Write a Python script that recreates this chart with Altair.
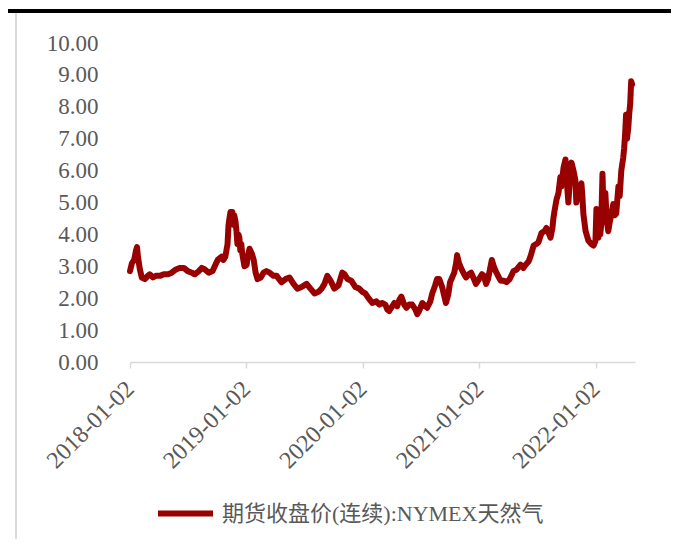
import altair as alt
import pandas as pd

series_name = "期货收盘价(连续):NYMEX天然气"

dates = [
    "2018-01-02", "2018-01-08", "2018-01-15", "2018-01-21", "2018-01-24", "2018-01-27",
    "2018-02-02", "2018-02-08", "2018-02-18", "2018-02-27", "2018-03-05", "2018-03-15",
    "2018-03-24", "2018-04-06", "2018-04-18", "2018-05-01", "2018-05-13", "2018-05-26",
    "2018-06-07", "2018-06-20", "2018-07-02", "2018-07-15", "2018-07-24", "2018-08-06",
    "2018-08-15", "2018-08-25", "2018-09-06", "2018-09-18", "2018-09-27", "2018-10-04",
    "2018-10-10", "2018-10-16", "2018-10-22", "2018-10-28", "2018-11-04", "2018-11-07",
    "2018-11-10", "2018-11-13", "2018-11-16", "2018-11-19", "2018-11-22", "2018-11-25",
    "2018-11-29", "2018-12-02", "2018-12-05", "2018-12-08", "2018-12-11", "2018-12-14",
    "2018-12-17", "2018-12-20", "2018-12-27",
    "2019-01-03", "2019-01-06", "2019-01-12", "2019-01-19", "2019-01-25", "2019-01-31",
    "2019-02-06", "2019-02-16", "2019-02-25", "2019-03-06", "2019-03-16", "2019-03-28",
    "2019-04-07", "2019-04-22", "2019-05-05", "2019-05-17", "2019-05-30", "2019-06-11",
    "2019-06-24", "2019-07-10", "2019-07-22", "2019-08-04", "2019-08-16", "2019-08-26",
    "2019-09-04", "2019-09-13", "2019-09-23", "2019-10-05", "2019-10-18", "2019-10-30",
    "2019-11-06", "2019-11-15", "2019-11-27", "2019-12-10", "2019-12-22",
    "2020-01-01", "2020-01-10", "2020-01-20", "2020-02-01", "2020-02-14", "2020-02-23",
    "2020-03-03", "2020-03-13", "2020-03-19", "2020-03-25", "2020-04-04", "2020-04-10",
    "2020-04-19", "2020-04-26", "2020-05-02", "2020-05-11", "2020-05-18", "2020-05-27",
    "2020-06-05", "2020-06-15", "2020-06-21", "2020-06-27", "2020-07-07", "2020-07-16",
    "2020-07-22", "2020-08-01", "2020-08-07", "2020-08-16", "2020-08-22", "2020-08-29",
    "2020-09-07", "2020-09-13", "2020-09-19", "2020-09-26", "2020-10-02", "2020-10-15",
    "2020-10-21", "2020-10-24", "2020-10-30", "2020-11-05", "2020-11-15", "2020-11-21",
    "2020-11-30", "2020-12-07", "2020-12-16", "2020-12-22",
    "2021-01-01", "2021-01-10", "2021-01-16", "2021-01-23", "2021-01-29", "2021-02-04",
    "2021-02-10", "2021-02-16", "2021-02-22", "2021-03-04", "2021-03-10", "2021-03-19",
    "2021-03-28", "2021-04-07", "2021-04-19", "2021-04-29", "2021-05-11", "2021-05-20",
    "2021-05-27", "2021-06-05", "2021-06-11", "2021-06-21", "2021-06-30", "2021-07-06",
    "2021-07-16", "2021-07-25", "2021-07-31", "2021-08-07", "2021-08-13", "2021-08-19",
    "2021-08-22", "2021-08-25", "2021-09-01", "2021-09-07", "2021-09-13", "2021-09-16",
    "2021-09-23", "2021-09-29", "2021-10-02", "2021-10-05", "2021-10-08", "2021-10-12",
    "2021-10-18", "2021-10-24", "2021-10-30", "2021-11-02", "2021-11-09", "2021-11-18",
    "2021-11-21", "2021-11-24", "2021-12-01", "2021-12-10", "2021-12-19", "2021-12-26",
    "2022-01-01", "2022-01-04", "2022-01-07", "2022-01-10", "2022-01-13", "2022-01-16",
    "2022-01-19", "2022-01-23", "2022-01-26", "2022-01-29", "2022-02-01", "2022-02-05",
    "2022-02-10", "2022-02-15", "2022-02-20", "2022-02-26", "2022-03-02", "2022-03-07",
    "2022-03-14", "2022-03-18", "2022-03-23", "2022-03-29", "2022-04-01", "2022-04-04",
    "2022-04-07", "2022-04-10", "2022-04-14", "2022-04-17", "2022-04-20", "2022-04-23",
    "2022-04-26",
]

prices = [
    2.85, 3.10, 3.20, 3.50, 3.60, 3.30,
    2.90, 2.65, 2.60, 2.70, 2.75, 2.65,
    2.70, 2.70, 2.75, 2.75, 2.80, 2.90,
    2.95, 2.95, 2.85, 2.80, 2.75, 2.85,
    2.95, 2.90, 2.80, 2.85, 3.05, 3.20,
    3.25, 3.30, 3.20, 3.30, 3.70, 4.30,
    4.50, 4.70, 4.50, 4.70, 4.30, 4.60,
    4.40, 4.10, 3.70, 4.00, 3.90, 3.50,
    3.70, 3.40, 3.00,
    3.05, 3.30, 3.55, 3.40, 3.20, 2.80,
    2.60, 2.65, 2.80, 2.85, 2.80, 2.70,
    2.70, 2.50, 2.60, 2.65, 2.45, 2.30,
    2.35, 2.45, 2.30, 2.15, 2.20, 2.30,
    2.45, 2.70, 2.55, 2.30, 2.40, 2.80,
    2.75, 2.60, 2.55, 2.35, 2.30,
    2.20, 2.15, 2.00, 1.85, 1.90, 1.80,
    1.85, 1.80, 1.65, 1.60, 1.75, 1.85,
    1.75, 1.95, 2.05, 1.80, 1.70, 1.80,
    1.80, 1.65, 1.50, 1.60, 1.85, 1.75,
    1.70, 1.90, 2.15, 2.40, 2.60, 2.60,
    2.35, 2.10, 1.85, 2.10, 2.50, 2.80,
    3.10, 3.35, 3.10, 2.95, 2.75, 2.65,
    2.75, 2.80, 2.60, 2.45,
    2.60, 2.75, 2.70, 2.45, 2.60, 2.90,
    3.20, 3.00, 2.85, 2.65, 2.55, 2.55,
    2.50, 2.60, 2.85, 2.90, 3.05, 2.95,
    3.05, 3.15, 3.30, 3.65, 3.70, 3.75,
    4.05, 4.10, 4.20, 4.05, 3.90, 4.20,
    4.50, 4.70, 5.10, 5.30, 5.80, 5.50,
    6.10, 6.35, 5.90, 5.40, 5.00, 5.60,
    6.25, 6.00, 5.70, 5.00, 5.30, 5.60,
    5.20, 4.65, 4.10, 3.80, 3.70, 3.65,
    3.80, 4.80, 3.90, 3.90, 4.40, 4.00,
    4.30, 5.90, 4.85, 4.40, 5.30, 4.50,
    4.10, 4.40, 4.65, 4.95, 4.60, 4.65,
    5.50, 5.20, 6.00, 6.40, 6.70, 7.15,
    7.75, 7.00, 7.35, 7.80, 8.10, 8.80,
    8.70,
]

y_ticks = [0, 1, 2, 3, 4, 5, 6, 7, 8, 9, 10]
x_tick_years = [2018, 2019, 2020, 2021, 2022]

df = pd.DataFrame({"date": dates, "price": prices, "series": series_name})

grey = "#595959"
axis_grey = "#d9d9d9"
red = "#990000"
serif = "'Liberation Serif', 'Noto Sans CJK SC', serif"

W, H = 505, 319

line = alt.Chart(df).mark_line(
    strokeWidth=6, strokeJoin="round", strokeCap="round"
).encode(
    x=alt.X(
        "date:T",
        title=None,
        scale=alt.Scale(
            type="utc",
            nice=False,
            domain=[
                alt.DateTime(year=2018, month=1, date=2, utc=True),
                alt.DateTime(year=2022, month=5, date=5, utc=True),
            ],
        ),
        axis=alt.Axis(
            values=[alt.DateTime(year=yr, month=1, date=2, utc=True) for yr in x_tick_years],
            format="%Y-%m-%d",
            labelAngle=-45,
            labelAlign="right",
            labelBaseline="middle",
            labelPadding=17,
            labelFont=serif,
            labelFontSize=24,
            labelColor=grey,
            tickSize=6,
            tickColor=axis_grey,
            tickWidth=1.5,
            domainColor=axis_grey,
            domainWidth=1.5,
            grid=False,
            labelOverlap=False,
            labelFlush=False,
            labelLimit=0,
        ),
    ),
    y=alt.Y(
        "price:Q",
        title=None,
        scale=alt.Scale(domain=[0, 10], nice=False, zero=True),
        axis=alt.Axis(
            values=y_ticks,
            format=".2f",
            ticks=False,
            tickSize=0,
            domain=False,
            grid=False,
            labelPadding=32,
            labelFont=serif,
            labelFontSize=23,
            labelColor=grey,
        ),
    ),
    color=alt.Color(
        "series:N",
        scale=alt.Scale(domain=[series_name], range=[red]),
        legend=alt.Legend(
            title=None,
            orient="none",
            legendX=25,
            legendY=H + 121,
            symbolType="stroke",
            symbolSize=3025,
            symbolStrokeWidth=6,
            labelFont=serif,
            labelFontSize=22,
            labelColor=grey,
            labelOffset=6,
            labelLimit=0,
            padding=0,
        ),
    ),
)

top_bar = alt.Chart(df).mark_rule(color="#000000", strokeWidth=4).encode(
    x=alt.value(-122), x2=alt.value(W + 40), y=alt.value(-32)
)
left_bar = alt.Chart(df).mark_rule(color=axis_grey, strokeWidth=2).encode(
    x=alt.value(-114), y=alt.value(-30), y2=alt.value(H + 180)
)

chart = alt.layer(line, top_bar, left_bar).properties(
    width=W,
    height=H,
    autosize=alt.AutoSizeParams(type="none"),
    padding={"left": 122, "top": 35, "right": 36, "bottom": 177},
).configure_view(stroke=None)

chart.save("out.html", embed_options={"renderer": "svg", "actions": False})
